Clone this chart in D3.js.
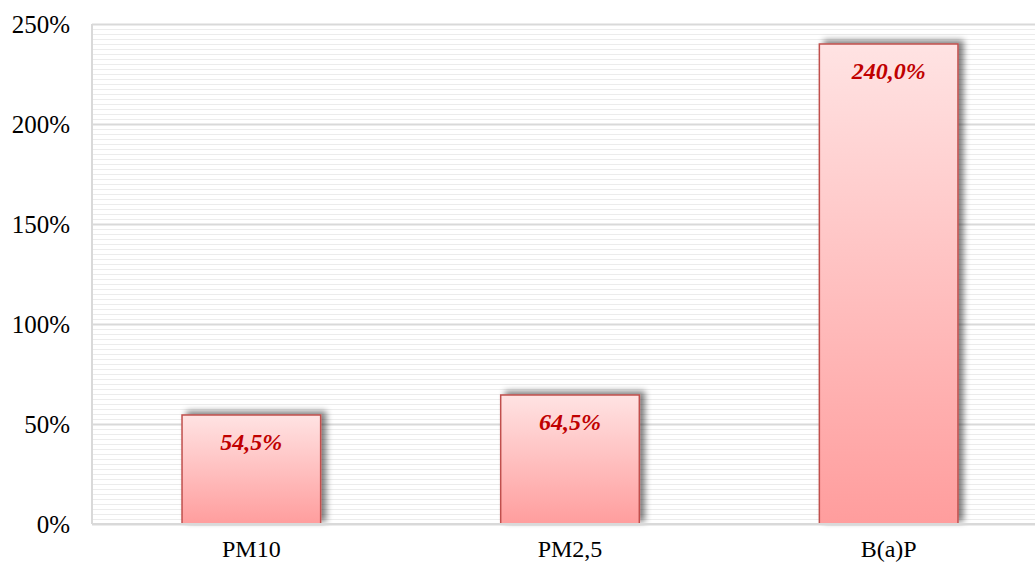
<!DOCTYPE html>
<html>
<head>
<meta charset="utf-8">
<script src="https://cdn.jsdelivr.net/npm/d3@7"></script>
<style>
  body { margin: 0; background: #fff; }
  svg { display: block; }
</style>
</head>
<body>
<svg id="chart" width="1035" height="564"></svg>
<script>
// chart data
const categories = ['PM10', 'PM2,5', 'B(a)P']
const values = [54.5, 64.5, 240.0]
const valueLabels = ['54,5%', '64,5%', '240,0%']
const yTicks = [0, 50, 100, 150, 200, 250]

const svg = d3.select('#chart')
const margin = {top: 24, left: 92}
const width = 956
const height = 500
const g = svg.append('g').attr('transform', 'translate(' + margin.left + ',' + margin.top + ')')

const x = d3.scaleBand()
  .domain(categories)
  .range([0, width])
  .paddingInner(0.565)
  .paddingOuter(0.2825)

const y = d3.scaleLinear()
  .domain([0, 250])
  .range([height, 0])

// defs: gradient + shadow
const defs = svg.append('defs')
const grad = defs.append('linearGradient')
  .attr('id', 'barGrad')
  .attr('x1', 0).attr('y1', 0).attr('x2', 0).attr('y2', 1)
grad.append('stop').attr('offset', '0%').attr('stop-color', '#ffe3e3')
grad.append('stop').attr('offset', '100%').attr('stop-color', '#ff9d9d')

const shadow = defs.append('filter')
  .attr('id', 'shadow')
  .attr('x', '-20%').attr('y', '-20%').attr('width', '140%').attr('height', '140%')
shadow.append('feGaussianBlur').attr('in', 'SourceAlpha').attr('stdDeviation', 3)
shadow.append('feOffset').attr('dx', 5).attr('dy', -3).attr('result', 'off')
shadow.append('feComponentTransfer').append('feFuncA').attr('type', 'linear').attr('slope', 0.5)
const merge = shadow.append('feMerge')
merge.append('feMergeNode')
merge.append('feMergeNode').attr('in', 'SourceGraphic')

// minor gridlines every 2.5%
g.append('g')
  .selectAll('line')
  .data(d3.range(2.5, 250, 2.5).filter(d => d % 50 !== 0))
  .enter().append('line')
  .attr('x1', 0).attr('x2', width)
  .attr('y1', d => Math.round(y(d)) + 0.5)
  .attr('y2', d => Math.round(y(d)) + 0.5)
  .attr('stroke', '#ececec')
  .attr('stroke-width', 1)

// major gridlines
g.append('g')
  .attr('class', 'grid')
  .call(d3.axisLeft(y).tickValues(yTicks).tickSize(-width).tickFormat(''))
  .call(a => a.select('.domain').remove())
  .selectAll('line')
  .attr('stroke', '#d9d9d9')
  .attr('stroke-width', 2)

// left axis line
g.append('line')
  .attr('x1', 0).attr('x2', 0)
  .attr('y1', 0).attr('y2', height)
  .attr('stroke', '#d9d9d9')
  .attr('stroke-width', 2)

// y tick labels
g.append('g')
  .call(d3.axisLeft(y).tickValues(yTicks).tickSize(0).tickPadding(22).tickFormat(d => d + '%'))
  .call(a => a.select('.domain').remove())
  .selectAll('text')
  .attr('font-family', 'Liberation Serif, serif')
  .attr('font-size', 25)
  .attr('fill', '#000')

// bars
g.append('g')
  .selectAll('rect')
  .data(values)
  .enter().append('rect')
  .attr('x', (d, i) => x(categories[i]))
  .attr('y', d => y(d))
  .attr('width', x.bandwidth())
  .attr('height', d => height - y(d))
  .attr('fill', 'url(#barGrad)')
  .attr('stroke', '#c0504d')
  .attr('stroke-width', 1.5)
  .attr('filter', 'url(#shadow)')

// bottom axis line
g.append('line')
  .attr('x1', 0).attr('x2', width)
  .attr('y1', height).attr('y2', height)
  .attr('stroke', '#d9d9d9')
  .attr('stroke-width', 2)

// value labels
g.append('g')
  .selectAll('text')
  .data(values)
  .enter().append('text')
  .attr('x', (d, i) => x(categories[i]) + x.bandwidth() / 2)
  .attr('y', d => y(d) + 35)
  .attr('text-anchor', 'middle')
  .attr('font-family', 'Liberation Serif, serif')
  .attr('font-weight', 'bold')
  .attr('font-style', 'italic')
  .attr('font-size', 24)
  .attr('fill', '#c00000')
  .text((d, i) => valueLabels[i])

// x axis labels
g.append('g')
  .attr('transform', 'translate(0,' + height + ')')
  .call(d3.axisBottom(x).tickSize(0).tickPadding(16))
  .call(a => a.select('.domain').remove())
  .selectAll('text')
  .attr('font-family', 'Liberation Serif, serif')
  .attr('font-size', 24)
  .attr('fill', '#000')
</script>
</body>
</html>
